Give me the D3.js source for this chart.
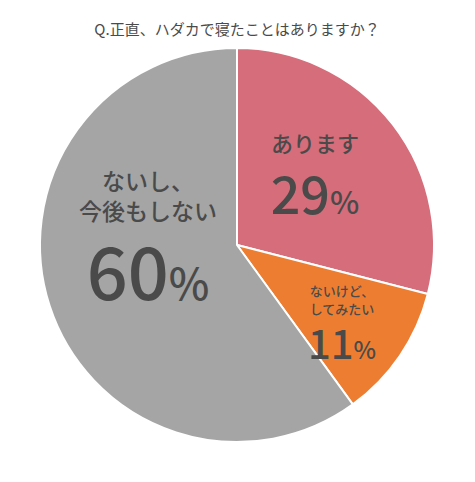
<!DOCTYPE html>
<meta charset="utf-8">
<script src="https://cdn.jsdelivr.net/npm/d3@7"></script>
<style>
body { margin: 0; background: #fff; }
text { font-family: "Noto Sans CJK JP", "Noto Sans", sans-serif; fill: #4a4a4a; }
</style>
<body>
<script>
var title = "Q.正直、ハダカで寝たことはありますか？";
var categories = ["あります", "ないけど、してみたい", "ないし、今後もしない"];
var values = [29, 11, 60];
var colors = ["#d66d7b", "#ed7e31", "#a5a5a5"];

// label layout: lines, label font size, percent font size, position
var labelLines = [["あります"], ["ないけど、", "してみたい"], ["ないし、", "今後もしない"]];
var labelPos = [
    {x: 315, y: 152, fs: 22, lh: 0, py: 214, ps: 52},
    {x: 342, y: 296, fs: 13, lh: 18, py: 359, ps: 40},
    {x: 148, y: 190, fs: 23, lh: 30, py: 300, ps: 72}
];

var width = 475, height = 482,
    cx = 237, cy = 245, r = 197;

var svg = d3.select("body").append("svg")
    .attr("width", width)
    .attr("height", height);

svg.append("text")
    .attr("x", cx).attr("y", 35)
    .attr("text-anchor", "middle")
    .attr("font-size", 15)
    .text(title);

var pie = d3.pie().sort(null).value(function(d){ return d; });
var arc = d3.arc().innerRadius(0).outerRadius(r);

var g = svg.append("g").attr("transform", "translate(" + cx + "," + cy + ")");
g.selectAll("path").data(pie(values)).enter().append("path")
    .attr("d", arc)
    .attr("fill", function(d, i){ return colors[i]; })
    .attr("stroke", "#fff")
    .attr("stroke-width", 2);

labelPos.forEach(function(p, i) {
    labelLines[i].forEach(function(line, j) {
        svg.append("text")
            .attr("x", p.x).attr("y", p.y + j * p.lh)
            .attr("text-anchor", "middle")
            .attr("font-size", p.fs)
            .attr("font-weight", 500)
            .text(line);
    });
    var t = svg.append("text")
        .attr("x", p.x).attr("y", p.py)
        .attr("text-anchor", "middle")
        .attr("font-weight", 500)
        .attr("font-family", "Noto Sans, sans-serif");
    t.append("tspan").attr("font-size", p.ps).text(values[i]);
    t.append("tspan").attr("font-size", p.ps * 0.6).text("%");
});
</script>
</body>
